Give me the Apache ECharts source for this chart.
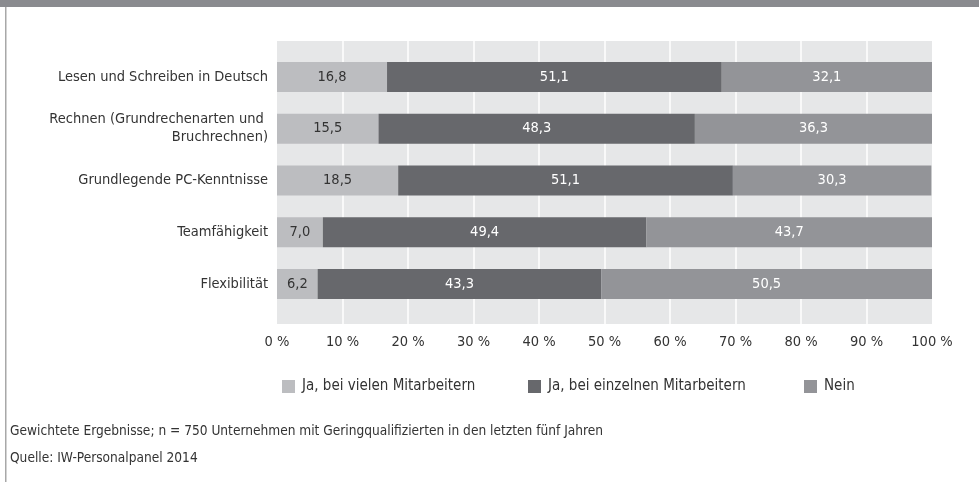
<!DOCTYPE html>
<html>
<head>
<meta charset="utf-8">
<script src="https://cdn.jsdelivr.net/npm/echarts@6/dist/echarts.min.js"></script>
<style>
  html, body { margin: 0; padding: 0; background: #fff; }
  #chart { width: 979px; height: 482px; }
</style>
</head>
<body>
<div id="chart"></div>
<script>
// Kategorien (von oben nach unten)
const categories = [
  'Lesen und Schreiben in Deutsch',
  'Rechnen (Grundrechenarten und \nBruchrechnen)',
  'Grundlegende PC-Kenntnisse',
  'Teamfähigkeit',
  'Flexibilität'
]
const seriesNames = ['Ja, bei vielen Mitarbeitern', 'Ja, bei einzelnen Mitarbeitern', 'Nein']
const vieleData = [16.8, 15.5, 18.5, 7.0, 6.2]
const einzelneData = [51.1, 48.3, 51.1, 49.4, 43.3]
const neinData = [32.1, 36.3, 30.3, 43.7, 50.5]
const xTicks = [0, 10, 20, 30, 40, 50, 60, 70, 80, 90, 100]
const footnote = 'Gewichtete Ergebnisse; n = 750 Unternehmen mit Geringqualifizierten in den letzten fünf Jahren'
const source = 'Quelle: IW-Personalpanel 2014'

const font = "'Liberation Sans Narrow', 'DejaVu Sans Condensed', sans-serif"
const colors = ['#bcbdc0', '#67686c', '#939498']
const labelColors = ['#333333', '#ffffff', '#ffffff']

const fmt = v => v.toFixed(1).replace('.', ',')

const chart = echarts.init(document.getElementById('chart'))

const makeSeries = (i, data) => ({
  name: seriesNames[i],
  type: 'bar',
  stack: 'total',
  xAxisIndex: 1,
  yAxisIndex: 1,
  barWidth: 30,
  itemStyle: { color: colors[i] },
  label: {
    show: true,
    position: 'inside',
    color: labelColors[i],
    fontFamily: font,
    fontSize: 14.5,
    formatter: p => fmt(p.value)
  },
  data: data
})

const makeLegend = (i, left) => ({
  data: [seriesNames[i]],
  left: left,
  top: 374,
  icon: 'rect',
  itemWidth: 13,
  itemHeight: 13,
  textStyle: { color: '#333', fontFamily: font, fontSize: 15, padding: [0, 0, 0, 2] }
})

// zweizeilige Beschriftung etwas tiefer setzen
const yData = categories.map(c => c.includes('\n')
  ? { value: c, textStyle: { padding: [7, 0, 0, 0] } }
  : c)

chart.setOption({
  animation: false,
  color: colors,
  legend: [makeLegend(0, 277), makeLegend(1, 523), makeLegend(2, 799)],
  grid: [
    { // Hintergrund
      left: 277, right: 47, top: 41, height: 283,
      show: true, backgroundColor: '#e6e7e8', borderWidth: 0
    },
    { // Balken
      left: 277, right: 47, top: 51, height: 259
    }
  ],
  xAxis: [
    {
      gridIndex: 0,
      type: 'value',
      min: xTicks[0],
      max: xTicks[xTicks.length - 1],
      interval: 10,
      axisLine: { show: false },
      axisTick: { show: false },
      axisLabel: {
        margin: 11,
        color: '#333',
        fontFamily: font,
        fontSize: 14.5,
        formatter: v => v + ' %'
      },
      splitLine: {
        show: true,
        showMinLine: false,
        showMaxLine: false,
        lineStyle: { color: '#ffffff', width: 1.5 }
      }
    },
    {
      gridIndex: 1,
      type: 'value',
      min: 0,
      max: 100,
      show: false
    }
  ],
  yAxis: [
    {
      gridIndex: 0,
      type: 'value',
      show: false
    },
    {
      gridIndex: 1,
      type: 'category',
      inverse: true,
      data: yData,
      axisLine: { show: false },
      axisTick: { show: false },
      axisLabel: {
        margin: 9,
        color: '#333',
        fontFamily: font,
        fontSize: 14.5,
        lineHeight: 18
      }
    }
  ],
  graphic: [
    { type: 'rect', shape: { x: 0, y: 0, width: 979, height: 7 }, style: { fill: '#8a8b8f' } },
    { type: 'rect', shape: { x: 5, y: 7, width: 1.5, height: 475 }, style: { fill: '#a8a8a8' } },
    { type: 'text', left: 10, top: 424, style: { text: footnote, fill: '#333', font: '13.6px ' + font } },
    { type: 'text', left: 10, top: 451, style: { text: source, fill: '#333', font: '13.6px ' + font } }
  ],
  series: [
    makeSeries(0, vieleData),
    makeSeries(1, einzelneData),
    makeSeries(2, neinData)
  ]
})
</script>
</body>
</html>
